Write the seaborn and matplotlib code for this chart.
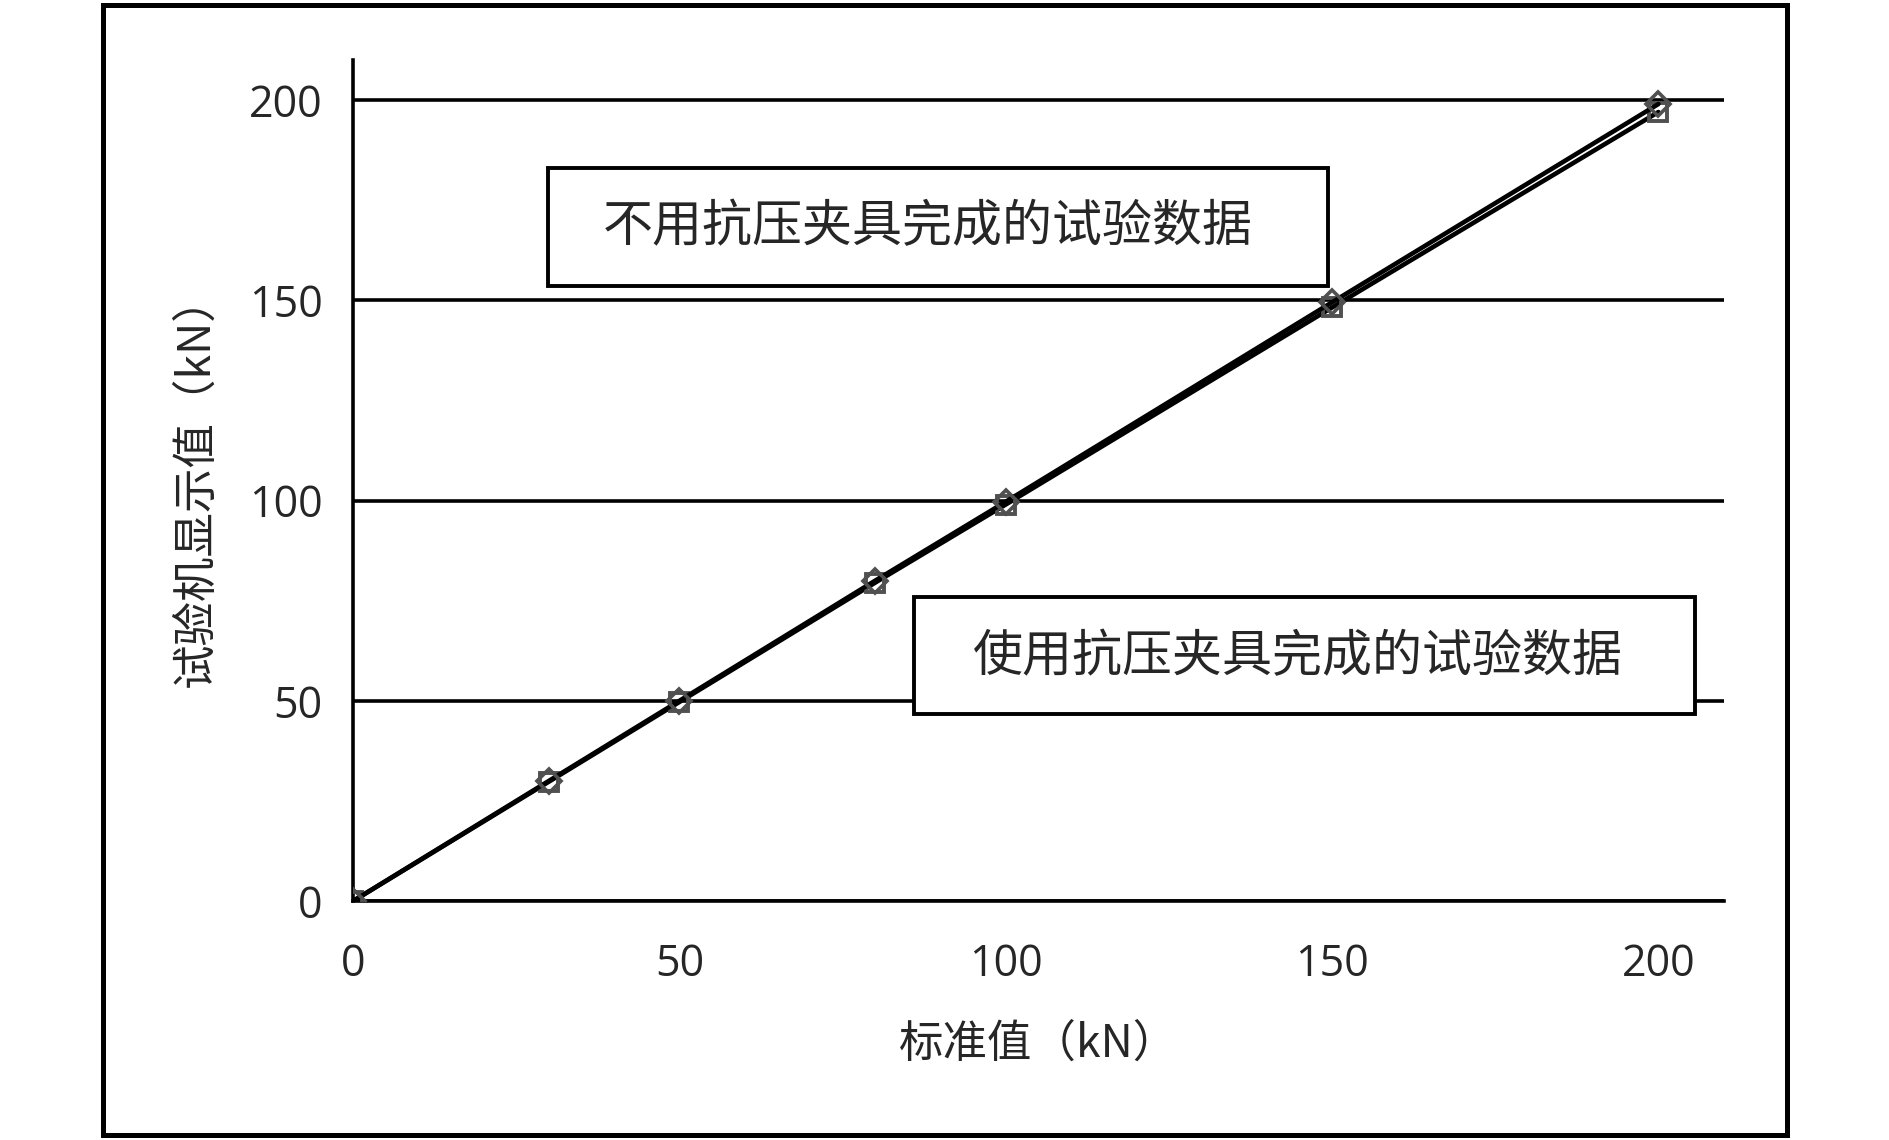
import pandas as pd
import seaborn as sns
import matplotlib.pyplot as plt
from matplotlib.patches import Rectangle

# 标准值 (kN)
standard = [0, 30, 50, 80, 100, 150, 200]
# 试验机显示值 (kN)
no_fixture = [0, 30, 50, 80, 99.7, 149.5, 199]
with_fixture = [0, 29.8, 49.7, 79.5, 99, 148.2, 197]
label_no = "不用抗压夹具完成的试验数据"
label_with = "使用抗压夹具完成的试验数据"
xticks = [0, 50, 100, 150, 200]
yticks = [0, 50, 100, 150, 200]

df_no = pd.DataFrame({"std": standard, "val": no_fixture})
df_with = pd.DataFrame({"std": standard, "val": with_fixture})

sns.set_style("white")
plt.rcParams['font.family'] = ['Open Sans', 'Noto Sans CJK SC', 'DejaVu Sans']
cjk = ['Noto Sans CJK SC', 'DejaVu Sans']

fig = plt.figure(figsize=(18.9, 11.4), dpi=100)
ax = fig.add_axes([0.1868, 0.2096, 0.7252, 0.7378])

sns.lineplot(data=df_with, x="std", y="val", ax=ax, color="black", lw=3.3,
             marker="s", markersize=13, markerfacecolor="none",
             markeredgecolor="#505050", markeredgewidth=2.8, zorder=3)
sns.lineplot(data=df_no, x="std", y="val", ax=ax, color="black", lw=3.3,
             marker="D", markersize=12, markerfacecolor="none",
             markeredgecolor="#505050", markeredgewidth=2.6, zorder=3)

ax.set_xlim(0, 210)
ax.set_ylim(0, 210)
ax.set_xticks(xticks)
ax.set_yticks(yticks)
ax.yaxis.grid(True, color="black", lw=2.6)
ax.xaxis.grid(False)
sns.despine(ax=ax)
for s in ["left", "bottom"]:
    ax.spines[s].set_color("black")
    ax.spines[s].set_linewidth(2.6)
ax.tick_params(axis="x", direction="in", length=13, width=2.4, labelsize=31, pad=30)
ax.tick_params(axis="y", direction="in", length=0, labelsize=31, pad=22)
for lab in ax.get_xticklabels() + ax.get_yticklabels():
    lab.set_fontweight("medium")

ax.set_xlabel("标准值（kN）", family=cjk, fontsize=32, labelpad=24)
ax.set_ylabel("试验机显示值（kN）", family=cjk, fontsize=32, labelpad=22)

# outer frame
fig.patches.append(Rectangle((0.0545, 0.004), 0.891, 0.9917, transform=fig.transFigure,
                             fill=False, edgecolor="black", lw=3.6))

# label boxes
fig.patches.append(Rectangle((548 / 1890, 1 - 286 / 1140), 780 / 1890, 118 / 1140,
                             transform=fig.transFigure, fill=True, facecolor="white",
                             edgecolor="black", lw=2.8, zorder=5))
fig.text(928 / 1890, 1 - 227 / 1140, label_no, family=cjk, fontsize=36,
         ha="center", va="center", zorder=6)
fig.patches.append(Rectangle((914 / 1890, 1 - 714 / 1140), 781 / 1890, 117 / 1140,
                             transform=fig.transFigure, fill=True, facecolor="white",
                             edgecolor="black", lw=2.8, zorder=5))
fig.text(1298 / 1890, 1 - 657 / 1140, label_with, family=cjk, fontsize=36,
         ha="center", va="center", zorder=6)

fig.savefig("out.png", dpi=100)
